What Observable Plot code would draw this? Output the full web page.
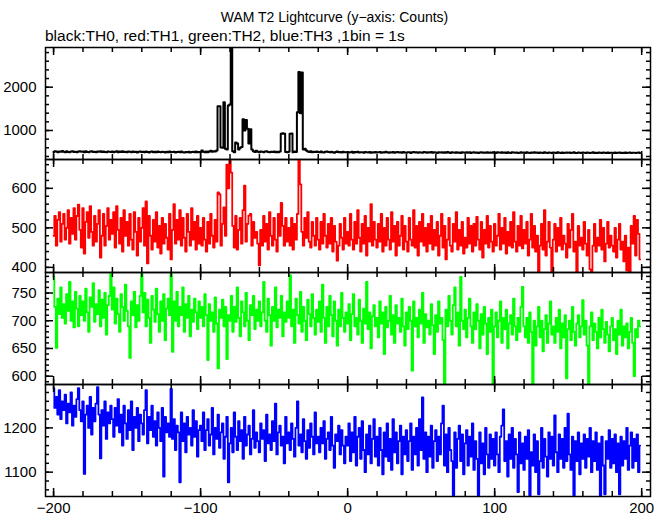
<!DOCTYPE html>
<html><head><meta charset="utf-8">
<script src="https://cdn.jsdelivr.net/npm/d3@7"></script>
<script src="https://cdn.jsdelivr.net/npm/@observablehq/plot@0.6"></script>
<style>
body{margin:0;background:#fff;}
#chart{position:relative;width:669px;height:515px;overflow:hidden;font-family:"Liberation Sans",Arial,Helvetica,sans-serif;color:#000;}
#title{position:absolute;left:0;width:669px;top:9px;text-align:center;font-size:14px;line-height:17px;white-space:nowrap;}
#subtitle{position:absolute;left:45px;top:27px;font-size:15.5px;line-height:18px;white-space:nowrap;}
.panel{position:absolute;left:0;}
</style></head>
<body><div id="chart"><div id="title"></div><div id="subtitle"></div></div>
<script>
const titleText = "WAM T2 Lightcurve (y−axis: Counts)";
const subtitleText = "black:TH0, red:TH1, green:TH2, blue:TH3 ,1bin = 1s";
const binStart = -200;   // first bin time (s)
const binSize = 1;       // 1 bin = 1 s
const xTickLabels = [-200, -100, 0, 100, 200];

// TH0 (black)
const th0 = [
505,520,512,498,515,508,525,510,500,518,506,495,512,520,503,510,498,515,522,507,
512,500,518,506,495,514,520,502,510,497,516,508,523,501,512,505,498,517,509,503,
515,500,508,520,497,512,505,518,502,510,496,514,507,499,516,503,511,494,508,515,
502,510,497,513,505,490,508,516,500,507,495,512,503,498,510,505,493,508,500,512,
497,505,510,493,502,508,496,512,500,489,505,498,510,494,503,508,497,512,500,505,
495,540,508,500,512,498,515,530,510,520,515,540,1560,1560,610,600,1650,580,560,1580,
1600,2950,520,500,720,700,560,600,620,1260,1000,1240,1040,700,1030,560,520,505,530,510,
500,515,508,495,512,520,503,498,510,505,515,500,508,496,512,925,935,925,505,498,
510,925,930,500,515,505,1420,2350,1400,2340,560,580,540,515,505,520,498,510,505,515,
505,498,512,500,490,508,515,502,495,510,500,488,505,512,497,503,490,508,500,495,
505,492,500,510,488,502,495,508,490,500,497,485,503,498,492,505,488,500,494,502,
490,498,505,487,500,493,508,495,485,500,492,503,488,497,505,490,499,486,502,494,
488,500,495,482,498,505,490,496,485,500,492,488,503,495,484,498,490,502,487,495,
490,483,498,492,500,485,495,488,502,490,480,496,492,485,500,488,494,482,497,490,
485,495,488,500,482,492,498,486,494,480,490,497,485,492,488,500,484,493,487,495,
488,480,495,490,484,498,486,492,480,495,488,483,497,490,485,493,480,488,495,486,
490,482,496,487,480,492,488,498,484,490,478,493,486,480,495,488,483,490,485,478,
492,486,480,495,488,482,490,478,487,493,484,490,480,488,495,483,478,490,486,482,
490,484,478,492,486,480,488,495,482,487,478,490,485,480,493,486,482,490,478,485,
488,482,490,478,485,492,480,487,483,490,478,486,492,480,485,488,478,484,490,482
];
// TH1 (red)
const th1 = [
480,530,455,520,540,465,510,535,470,500,545,460,525,485,550,470,530,559,495,450,
550,435,515,540,475,555,490,455,530,465,510,545,425,480,535,455,505,550,470,520,
485,540,450,555,495,460,525,440,545,480,515,455,535,470,445,540,490,430,525,465,
500,550,455,567,410,530,480,445,520,465,540,450,505,435,525,460,510,475,445,535,
420,495,560,460,520,470,545,455,525,475,440,535,490,455,550,470,515,445,530,460,
500,455,525,470,440,515,460,535,480,450,520,465,590,585,455,510,552,480,660,600,
672,640,505,450,530,445,495,525,460,545,607,465,510,531,535,455,515,475,490,460,
405,495,455,530,465,510,445,540,480,455,525,470,440,535,480,563,505,455,525,465,
500,455,525,445,510,470,535,672,610,490,455,525,475,540,465,450,515,480,455,525,
470,445,515,460,535,480,450,510,460,525,440,505,465,417,455,510,475,445,525,460,
490,455,535,470,445,515,460,545,475,440,510,460,530,430,500,465,560,455,515,470,
450,510,465,535,440,500,455,525,470,445,540,465,505,430,515,455,480,530,445,505,
465,440,525,470,455,545,450,505,430,515,465,535,455,500,440,510,460,530,445,495,
455,515,430,480,535,450,505,420,470,525,455,440,510,465,540,445,495,455,515,435,
475,450,525,460,505,440,510,455,528,470,445,515,425,495,460,530,450,505,465,440,
510,455,480,535,445,500,460,525,435,490,455,515,450,540,465,440,505,455,530,448,
495,460,515,430,470,535,450,505,440,480,388,455,510,445,545,430,465,515,450,390,
470,510,440,500,455,525,445,480,460,425,510,450,495,535,440,465,388,505,455,475,
445,515,460,430,495,395,388,455,510,440,475,455,520,445,500,415,460,515,450,480,
455,440,500,425,470,510,445,465,415,480,392,450,388,505,460,530,430,520,485,420
];
// TH2 (green)
const th2 = [
779,725,651,740,712,760,705,730,695,748,718,770,700,735,688,752,722,690,745,710,
735,700,758,715,680,742,725,768,698,730,712,755,690,738,705,750,675,728,745,790,
720,760,695,740,712,680,748,725,700,765,718,690,633,735,710,752,688,728,700,745,
790,715,750,690,738,705,660,745,720,698,758,712,680,735,700,748,665,722,740,710,
788,644,735,700,752,690,725,710,760,680,730,705,745,672,720,698,740,715,685,735,
705,725,690,748,710,629,730,700,715,680,742,695,614,720,705,738,690,725,631,710,
700,745,680,725,698,760,705,672,735,715,690,750,700,665,728,710,745,685,720,700,
735,690,715,770,700,680,740,710,655,725,700,760,688,720,705,745,672,715,698,735,
705,782,690,720,660,740,710,695,752,680,725,700,665,738,712,690,748,705,675,720,
698,735,680,765,705,660,725,690,745,710,672,735,700,655,720,690,750,705,680,715,
695,730,665,712,748,690,705,675,738,700,660,722,695,770,685,715,650,708,728,690,
705,670,735,695,715,640,725,688,700,745,675,710,660,728,695,705,680,740,690,655,
715,685,725,700,610,735,690,705,670,720,695,750,660,712,688,700,675,730,692,640,
710,680,735,695,705,665,585,720,690,745,700,675,728,760,690,715,655,779,700,685,
720,670,705,740,690,660,715,685,730,700,650,712,675,725,695,640,705,680,720,585,
690,715,670,700,735,660,705,685,720,650,695,710,675,740,690,665,705,680,725,761,
690,670,705,660,715,680,585,700,655,690,725,670,700,645,685,710,660,695,735,675,
690,660,705,680,720,650,695,670,710,596,685,700,665,725,680,655,695,710,670,690,
737,675,700,655,585,690,715,665,695,680,650,705,670,720,685,660,698,675,645,690,
705,665,685,640,700,675,720,655,690,670,695,650,680,705,660,600,685,670,700,690
];
// TH3 (blue)
const th3 = [
1290,1245,1270,1230,1285,1220,1260,1240,1275,1210,1255,1235,1280,1205,1250,1225,1265,1290,1240,1215,
1260,1096,1230,1250,1200,1270,1185,1245,1215,1255,1292,1230,1131,1240,1205,1260,1175,1235,1210,1250,
1220,1180,1245,1205,1265,1190,1230,1160,1250,1210,1175,1240,1195,1260,1150,1225,1200,1245,1170,1230,
1210,1185,1240,1285,1165,1225,1195,1250,1180,1215,1160,1235,1200,1170,1245,1090,1225,1190,1210,1180,
1288,1175,1220,1150,1205,1190,1077,1235,1170,1210,1145,1225,1185,1200,1160,1240,1180,1215,1135,1195,
1205,1170,1235,1150,1195,1220,1160,1185,1245,1140,1200,1175,1230,1155,1190,1210,1130,1180,1225,1077,
1165,1200,1145,1235,1180,1150,1215,1170,1195,1130,1225,1160,1185,1205,1140,1175,1240,1155,1190,1170,
1145,1210,1175,1195,1125,1230,1165,1185,1150,1215,1170,1255,1140,1190,1205,1160,1180,1120,1225,1165,
1190,1150,1210,1175,1135,1200,1260,1160,1185,1145,1220,1170,1130,1195,1155,1210,1180,1140,1235,1165,
1180,1145,1200,1165,1215,1130,1175,1190,1150,1225,1160,1110,1185,1170,1205,1140,1195,1160,1120,1180,
1160,1210,1125,1190,1145,1225,1115,1180,1200,1130,1215,1150,1100,1185,1140,1205,1120,1175,1220,1135,
1180,1115,1200,1150,1095,1190,1135,1210,1125,1175,1105,1220,1145,1190,1120,1170,1205,1095,1180,1140,
1195,1125,1170,1210,1105,1180,1140,1200,1115,1220,1150,1269,1130,1190,1100,1180,1135,1205,1110,1170,
1195,1125,1180,1140,1210,1250,1115,1185,1100,1200,1150,1125,1048,1190,1110,1175,1205,1125,1185,1095,
1165,1195,1115,1180,1135,1210,1105,1170,1130,1048,1190,1120,1165,1095,1200,1140,1110,1185,1130,1175,
1115,1190,1140,1100,1180,1205,1242,1125,1170,1090,1185,1130,1200,1110,1175,1140,1055,1190,1120,1165,
1105,1180,1130,1195,1048,1145,1115,1185,1100,1170,1050,1125,1200,1110,1175,1135,1090,1190,1130,1180,
1115,1228,1145,1100,1185,1130,1175,1110,1200,1125,1232,1140,1105,1180,1048,1170,1125,1190,1095,1165,
1130,1185,1110,1175,1135,1200,1100,1170,1125,1190,1105,1165,1048,1180,1115,1050,1170,1130,1195,1110,
1175,1120,1185,1100,1165,1050,1180,1115,1170,1130,1200,1105,1160,1190,1110,1175,1125,1185,1100,1160
];

document.getElementById("title").textContent = titleText;
document.getElementById("subtitle").textContent = subtitleText;

const panels = [
  {values: th0, color: "#000000", domain: [330, 2917], labels: [1000, 2000], minorStep: 200, top: 47, h: 112},
  {values: th1, color: "#ff0000", domain: [387, 673], labels: [400, 500, 600], minorStep: 20, top: 159, h: 113},
  {values: th2, color: "#00ff00", domain: [585, 787], labels: [600, 650, 700, 750], minorStep: 10, top: 272, h: 112},
  {values: th3, color: "#0000ff", domain: [1045, 1298], labels: [1100, 1200], minorStep: 20, top: 384, h: 112}
];

const W = 669, ML = 45, MR = 19;
const plotW = W - ML - MR;
const xDomain = [-205.5, 206];
const xMinor = d3.range(-200, 201, 20);
const font = '"Liberation Sans", Arial, Helvetica, sans-serif';
const chart = document.getElementById("chart");

panels.forEach((p, k) => {
  const last = k === panels.length - 1;
  const mt = 2, mb = last ? 19 : 2;
  const data = p.values.map((v, i) => ({t: binStart + i * binSize, v}));
  const lo = Math.ceil(p.domain[0] / p.minorStep) * p.minorStep;
  const minor = d3.range(lo, p.domain[1], p.minorStep);
  const tk = {stroke: "black", strokeWidth: 1.5};
  const svg = Plot.plot({
    width: W, height: p.h + mt + mb,
    marginLeft: ML, marginRight: MR, marginTop: mt, marginBottom: mb,
    x: {domain: xDomain, axis: null},
    y: {domain: p.domain, axis: null},
    style: {fontFamily: font, fontSize: "15px", background: "none", overflow: "visible", color: "black"},
    marks: [
      Plot.line(data, {x: "t", y: "v", stroke: p.color, strokeWidth: k === 0 ? 2 : 1.8, curve: "step", clip: true}),
      Plot.tickY(minor, {y: d => d, insetRight: plotW - 4, ...tk}),
      Plot.tickY(minor, {y: d => d, insetLeft: plotW - 4, ...tk}),
      Plot.tickY(p.labels, {y: d => d, insetRight: plotW - 8, ...tk}),
      Plot.tickY(p.labels, {y: d => d, insetLeft: plotW - 8, ...tk}),
      Plot.tickX(xMinor, {x: d => d, insetBottom: p.h - 5, ...tk}),
      Plot.tickX(xMinor, {x: d => d, insetTop: p.h - 5, ...tk}),
      Plot.tickX(xTickLabels, {x: d => d, insetBottom: p.h - 8, ...tk}),
      Plot.tickX(xTickLabels, {x: d => d, insetTop: p.h - 8, ...tk}),
      Plot.frame({stroke: "black", strokeWidth: 1.5}),
      Plot.axisY({ticks: p.labels, tickSize: 0, tickPadding: 9, fontSize: 15, label: null, tickFormat: d => String(d)}),
      last ? Plot.axisX({ticks: xTickLabels, tickSize: 0, tickPadding: 6, fontSize: 15, label: null}) : null
    ]
  });
  svg.classList.add("panel");
  svg.style.top = (p.top - mt) + "px";
  svg.style.position = "absolute";
  chart.appendChild(svg);
});
</script>
</body></html>
